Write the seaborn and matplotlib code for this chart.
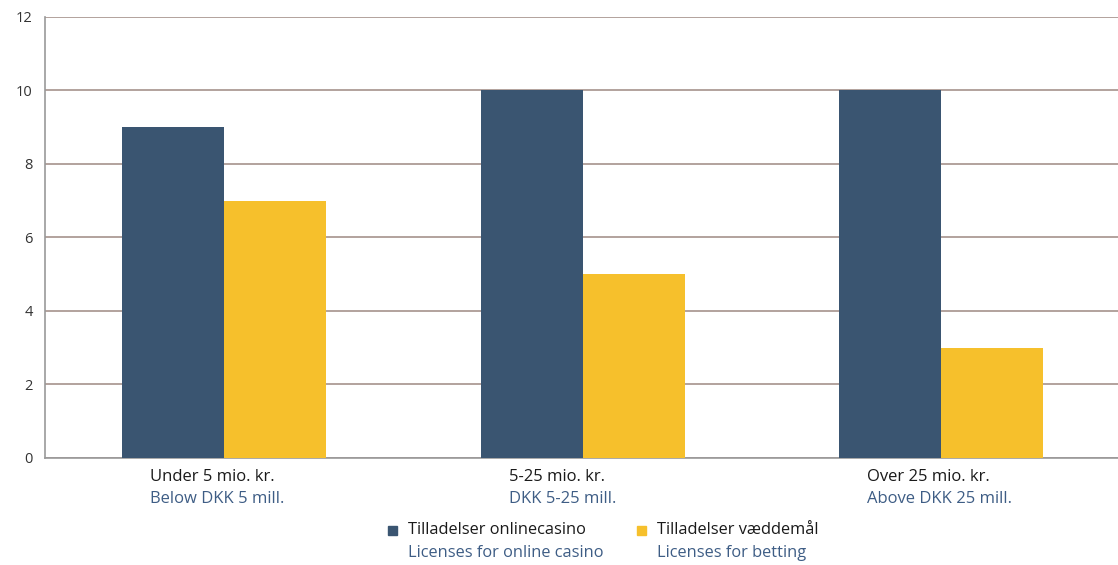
import matplotlib.pyplot as plt
import matplotlib.transforms as mtransforms
from matplotlib.patches import Rectangle
import seaborn as sns
import pandas as pd

# Data
categories_da = ["Under 5 mio. kr.", "5-25 mio. kr.", "Over 25 mio. kr."]
categories_en = ["Below DKK 5 mill.", "DKK 5-25 mill.", "Above DKK 25 mill."]
casino = [9, 10, 10]
betting = [7, 5, 3]
series_da = ["Tilladelser onlinecasino", "Tilladelser væddemål"]
series_en = ["Licenses for online casino", "Licenses for betting"]

dark_blue = "#3a5571"
yellow = "#f6c02c"
label_blue = "#3e5d85"
grid_col = "#b2a29d"

df = pd.DataFrame({
    "cat": categories_da * 2,
    "series": [series_da[0]] * 3 + [series_da[1]] * 3,
    "value": casino + betting,
})

sns.set_style("white")
plt.rcParams["font.family"] = ["Open Sans", "DejaVu Sans"]

fig = plt.figure(figsize=(11.18, 5.65), dpi=100)
ax = fig.add_axes([0.0403, 0.1894, 0.962, 0.7806])

sns.barplot(data=df, x="cat", y="value", hue="series", order=categories_da,
            palette=[dark_blue, yellow], width=0.57, gap=0, saturation=1,
            linewidth=0, legend=False, ax=ax, zorder=3)

ax.set_xlim(-0.5, 2.5)
ax.set_ylim(0, 12)
ax.set_yticks(range(0, 13, 2))
ax.yaxis.grid(True, color=grid_col, linewidth=1.4, zorder=0)
ax.set_axisbelow(True)
ax.set_xlabel("")
ax.set_ylabel("")
ax.set_xticks([])
ax.set_xticks([0.5, 1.5], minor=True)
ax.tick_params(axis="x", which="minor", length=5, color="#999999", width=1)
ax.tick_params(axis="y", length=7, color=grid_col, width=1.2, labelsize=10.5, pad=2)
for lab in ax.get_yticklabels():
    lab.set_color("#333333")

for side in ["top", "right"]:
    ax.spines[side].set_visible(False)
ax.spines["left"].set_color("#999999")
ax.spines["bottom"].set_color("#999999")
ax.spines["left"].set_linewidth(1.2)
ax.spines["bottom"].set_linewidth(1.2)

# two-line category labels
trans = mtransforms.blended_transform_factory(ax.transData, fig.transFigure)
for i, (da, en) in enumerate(zip(categories_da, categories_en)):
    ax.text(i - 0.206, 1 - 477 / 565, da, transform=trans, ha="left", va="center",
            fontsize=12, color="#1a1a1a")
    ax.text(i - 0.206, 1 - 499 / 565, en, transform=trans, ha="left", va="center",
            fontsize=12, color=label_blue)

# custom legend
legend_x = [393, 642]
for x, col, da, en in zip(legend_x, [dark_blue, yellow], series_da, series_en):
    fig.patches.append(Rectangle((x / 1118 - 0.0045, 1 - 535 / 565), 0.0081, 0.016,
                                 transform=fig.transFigure, color=col))
    fig.text((x + 15) / 1118, 1 - 530 / 565, da, ha="left", va="center",
             fontsize=11.8, color="#1a1a1a")
    fig.text((x + 15) / 1118, 1 - 553 / 565, en, ha="left", va="center",
             fontsize=11.8, color=label_blue)

fig.savefig("out.png", dpi=100)
